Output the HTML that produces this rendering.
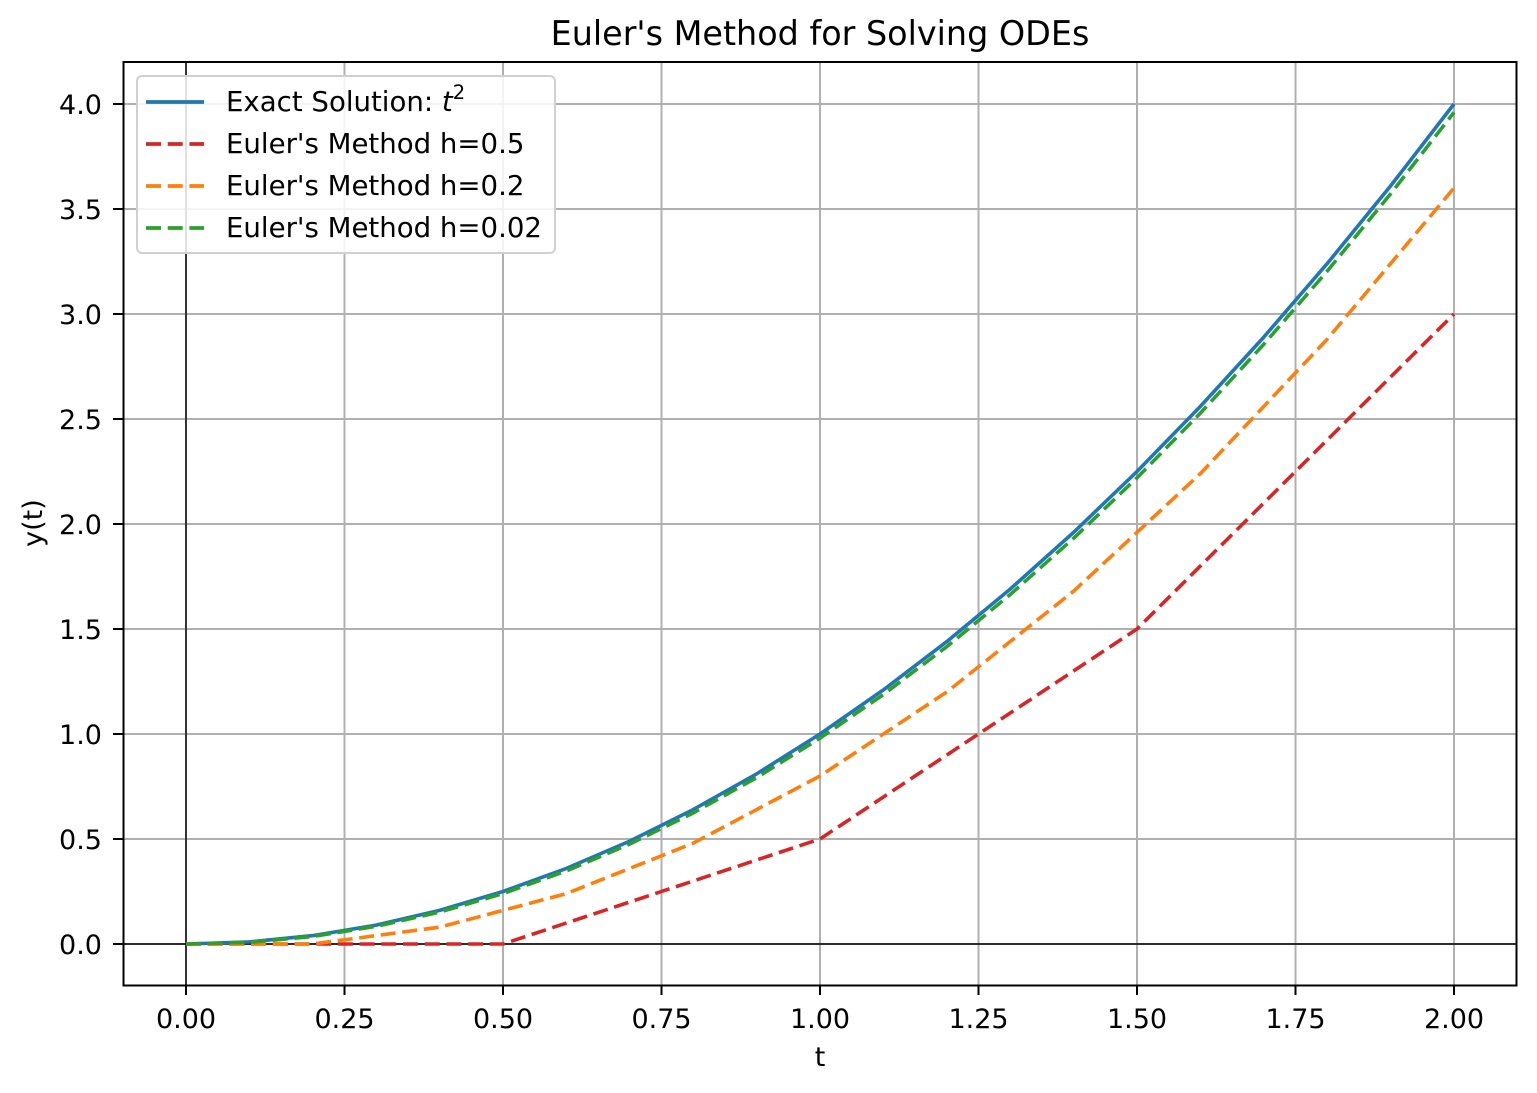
<!DOCTYPE html>
<html><head><meta charset="utf-8"><style>
body{margin:0;background:#fff}
svg{display:block;font-family:"DejaVu Sans","Liberation Sans",sans-serif}
</style></head><body>
<svg id="chart" width="1537" height="1093" viewBox="0 0 1537 1093">
<rect width="1537" height="1093" fill="#fff"/>
<text x="820" y="45" font-size="33.4" text-anchor="middle">Euler's Method for Solving ODEs</text>
<g id="grid"></g><g id="series"></g><g id="ticks"></g>
<rect x="123.5" y="62" width="1393" height="923.5" fill="none" stroke="#000" stroke-width="2"/>
<text x="820" y="1066" font-size="27" text-anchor="middle">t</text>
<text x="42" y="523" font-size="27" text-anchor="middle" transform="rotate(-90 42 523)">y(t)</text>
<g>
<rect x="137" y="76" width="418" height="177" rx="5" fill="#fff" fill-opacity="0.85" stroke="#d0d0d0" stroke-width="2"/>
<line x1="146" y1="102" x2="204" y2="102" stroke="#1f77b4" stroke-width="3.8"/>
<text x="226" y="111" font-size="27.6">Exact Solution: <tspan font-style="italic">t</tspan><tspan font-size="19.5" dy="-12">2</tspan></text>
<line x1="146" y1="144" x2="204" y2="144" stroke="#d62728" stroke-width="3.8" stroke-dasharray="15,6.7"/>
<text x="226" y="153" font-size="27.6">Euler's Method h=0.5</text>
<line x1="146" y1="186" x2="204" y2="186" stroke="#ff7f0e" stroke-width="3.8" stroke-dasharray="15,6.7"/>
<text x="226" y="195" font-size="27.6">Euler's Method h=0.2</text>
<line x1="146" y1="228" x2="204" y2="228" stroke="#2ca02c" stroke-width="3.8" stroke-dasharray="15,6.7"/>
<text x="226" y="237" font-size="27.6">Euler's Method h=0.02</text>
</g>
</svg>
<script>
const xTicks=["0.00","0.25","0.50","0.75","1.00","1.25","1.50","1.75","2.00"];
const yTicks=["0.0","0.5","1.0","1.5","2.0","2.5","3.0","3.5","4.0"];
const tExact=[0,0.1,0.2,0.3,0.4,0.5,0.6,0.7,0.8,0.9,1,1.1,1.2,1.3,1.4,1.5,1.6,1.7,1.8,1.9,2];
const yExact=[0,0.01,0.04,0.09,0.16,0.25,0.36,0.49,0.64,0.81,1,1.21,1.44,1.69,1.96,2.25,2.56,2.89,3.24,3.61,4];
const tH05=[0,0.5,1,1.5,2];
const yH05=[0,0,0.5,1.5,3];
const tH02=[0,0.2,0.4,0.6,0.8,1,1.2,1.4,1.6,1.8,2];
const yH02=[0,0,0.08,0.24,0.48,0.8,1.2,1.68,2.24,2.88,3.6];
const tH002=[0,0.1,0.2,0.3,0.4,0.5,0.6,0.7,0.8,0.9,1,1.1,1.2,1.3,1.4,1.5,1.6,1.7,1.8,1.9,2];
const yH002=[0,0.008,0.036,0.084,0.152,0.24,0.348,0.476,0.624,0.792,0.98,1.188,1.416,1.664,1.932,2.22,2.528,2.856,3.204,3.572,3.96];
const NS="http://www.w3.org/2000/svg";
const X=v=>186+v*634, Y=v=>944-v*210;
function mk(tag,attrs,parent){const e=document.createElementNS(NS,tag);for(const k in attrs)e.setAttribute(k,attrs[k]);parent.appendChild(e);return e;}
const grid=document.getElementById('grid'),ticks=document.getElementById('ticks'),series=document.getElementById('series');
xTicks.forEach(l=>{const x=X(parseFloat(l));
const g=mk('line',{x1:x,x2:x,y1:62,y2:985,stroke:'#b0b0b0','stroke-width':2},grid);


mk('line',{x1:x,x2:x,y1:985,y2:995,stroke:'#000','stroke-width':2},ticks);
const t=mk('text',{x:x,y:1028,'font-size':27,'text-anchor':'middle'},ticks);t.textContent=l;

});
yTicks.forEach(l=>{const y=Y(parseFloat(l));
const g=mk('line',{x1:123,x2:1517,y1:y,y2:y,stroke:'#b0b0b0','stroke-width':2},grid);


mk('line',{x1:113,x2:123,y1:y,y2:y,stroke:'#000','stroke-width':2},ticks);
const t=mk('text',{x:102,y:y+10,'font-size':27,'text-anchor':'end'},ticks);t.textContent=l;

});
const ax=mk('line',{x1:123,x2:1517,y1:Y(0),y2:Y(0),stroke:'#000','stroke-width':1.4},grid);


const ay=mk('line',{x1:X(0),x2:X(0),y1:62,y2:985,stroke:'#000','stroke-width':1.4},grid);


function line(ts,ys,color,dash,name){
const p=mk('polyline',{points:ts.map((t,i)=>X(t)+','+Y(ys[i])).join(' '),fill:'none',stroke:color,'stroke-width':3.6,'stroke-dasharray':dash,'stroke-linejoin':'round'},series);

}
line(tExact,yExact,'#1f77b4','none','exact-line');
line(tH05,yH05,'#d62728','15,6.7','euler-h05-line');
line(tH02,yH02,'#ff7f0e','15,6.7','euler-h02-line');
line(tH002,yH002,'#2ca02c','15,6.7','euler-h002-line');
</script>
</body></html>
